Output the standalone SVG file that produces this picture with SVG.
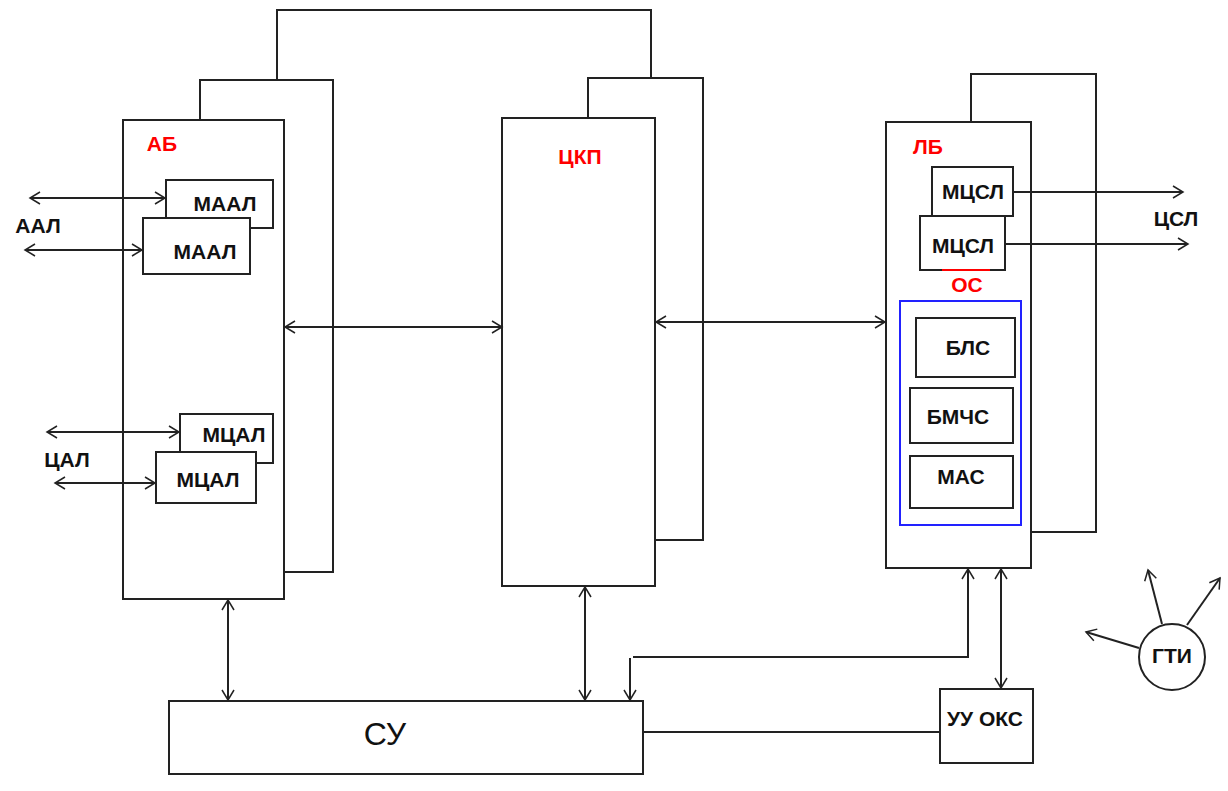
<svg xmlns="http://www.w3.org/2000/svg" width="1228" height="791" viewBox="0 0 1228 791">
<style>
.box{fill:#fff;stroke:#222;stroke-width:2}
.ln{fill:none;stroke:#222;stroke-width:2}
.t{font-family:"Liberation Sans",Arial,sans-serif;font-weight:bold;font-size:21px;fill:#111;text-anchor:middle}
.r{font-family:"Liberation Sans",Arial,sans-serif;font-weight:bold;font-size:21px;fill:#f00;text-anchor:middle}
</style>
<defs>
<marker id="a" markerUnits="userSpaceOnUse" markerWidth="16" markerHeight="16" refX="12" refY="7" orient="auto-start-reverse" viewBox="0 0 16 14">
<path d="M2,1 L12,7 L2,13" fill="none" stroke="#222" stroke-width="1.5"/>
</marker>
</defs>
<g id="AB">
<rect class="box" x="200" y="80" width="133" height="492"/>
<rect class="box" x="123" y="120" width="161" height="479"/>
<text class="r" x="162" y="151">АБ</text>
</g>
<g id="MAAL1"><rect class="box" x="166" y="180" width="107" height="48"/><text class="t" x="225" y="211">МААЛ</text></g>
<g id="MAAL2"><rect class="box" x="143" y="218" width="107" height="56"/><text class="t" x="205" y="259">МААЛ</text></g>
<g id="MCAL1"><rect class="box" x="180" y="414" width="93" height="49"/><text class="t" x="234" y="442">МЦАЛ</text></g>
<g id="MCAL2"><rect class="box" x="156" y="452" width="100" height="51"/><text class="t" x="208" y="487">МЦАЛ</text></g>
<g id="CKP">
<rect class="box" x="588" y="78" width="115" height="462"/>
<rect class="box" x="502" y="118" width="153" height="468"/>
<text class="r" x="580" y="164">ЦКП</text>
</g>
<g id="LB">
<rect class="box" x="971" y="74" width="125" height="458"/>
<rect class="box" x="886" y="122" width="145" height="446"/>
<text class="r" x="928" y="154">ЛБ</text>
</g>
<g id="MCSL1"><rect class="box" x="932" y="167" width="81" height="49"/><text class="t" x="973" y="199">МЦСЛ</text></g>
<g id="MCSL2"><rect class="box" x="920" y="216" width="85" height="54"/><text class="t" x="963" y="253">МЦСЛ</text></g>
<g id="OS">
<line x1="942" y1="270" x2="990" y2="270" stroke="#f00" stroke-width="2"/>
<text class="r" x="967" y="292">ОС</text>
<rect x="900" y="301" width="121" height="224" fill="none" stroke="#22f" stroke-width="2"/>
</g>
<g id="BLS"><rect class="box" x="916" y="318" width="99" height="59"/><text class="t" x="968" y="355">БЛС</text></g>
<g id="BMCHS"><rect class="box" x="910" y="388" width="103" height="55"/><text class="t" x="958" y="424">БМЧС</text></g>
<g id="MAS"><rect class="box" x="910" y="456" width="103" height="52"/><text class="t" x="961" y="484">МАС</text></g>
<g id="SU"><rect class="box" x="169" y="701" width="474" height="73"/><text x="385" y="745" font-family="Liberation Sans,Arial,sans-serif" font-size="32" fill="#111" text-anchor="middle">СУ</text></g>
<g id="UUOKS"><rect class="box" x="940" y="689" width="93" height="74"/><text class="t" x="985" y="726">УУ ОКС</text></g>
<g id="GTI"><circle cx="1172" cy="657" r="33" class="box"/><text class="t" x="1172" y="663">ГТИ</text></g>
<g id="labels">
<text class="t" x="38" y="233">ААЛ</text>
<text class="t" x="67" y="467">ЦАЛ</text>
<text class="t" x="1176" y="226">ЦСЛ</text>
</g>
<g id="connectors">
<polyline class="ln" points="277,80 277,10 651,10 651,78"/>
<line class="ln" x1="30" y1="198" x2="165" y2="198" marker-start="url(#a)" marker-end="url(#a)"/>
<line class="ln" x1="25" y1="250" x2="142" y2="250" marker-start="url(#a)" marker-end="url(#a)"/>
<line class="ln" x1="47" y1="432" x2="179" y2="432" marker-start="url(#a)" marker-end="url(#a)"/>
<line class="ln" x1="55" y1="483" x2="155" y2="483" marker-start="url(#a)" marker-end="url(#a)"/>
<line class="ln" x1="285" y1="327" x2="502" y2="327" marker-start="url(#a)" marker-end="url(#a)"/>
<line class="ln" x1="656" y1="322" x2="885" y2="322" marker-start="url(#a)" marker-end="url(#a)"/>
<line class="ln" x1="1013" y1="192" x2="1183" y2="192" marker-end="url(#a)"/>
<line class="ln" x1="1005" y1="244" x2="1188" y2="244" marker-end="url(#a)"/>
<line class="ln" x1="228" y1="600" x2="228" y2="700" marker-start="url(#a)" marker-end="url(#a)"/>
<line class="ln" x1="585" y1="587" x2="585" y2="700" marker-start="url(#a)" marker-end="url(#a)"/>
<polyline class="ln" points="633,657 968,657 968,569" marker-end="url(#a)"/>
<line class="ln" x1="630" y1="658" x2="630" y2="700" marker-end="url(#a)"/>
<line class="ln" x1="1001" y1="569" x2="1001" y2="688" marker-start="url(#a)" marker-end="url(#a)"/>
<line class="ln" x1="643" y1="732" x2="940" y2="732"/>
<line class="ln" x1="1139" y1="648" x2="1086" y2="632" marker-end="url(#a)"/>
<line class="ln" x1="1162" y1="624" x2="1148" y2="570" marker-end="url(#a)"/>
<line class="ln" x1="1187" y1="625" x2="1220" y2="578" marker-end="url(#a)"/>
</g>
</svg>
